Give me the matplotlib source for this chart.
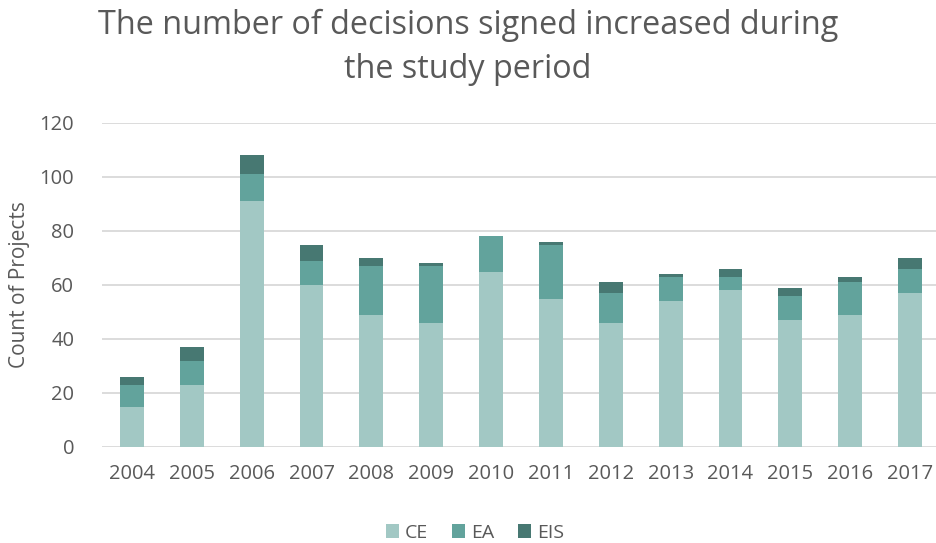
import numpy as np
import matplotlib
matplotlib.use("Agg")
import matplotlib.pyplot as plt

plt.rcParams.update({
    "font.family": ["Open Sans", "DejaVu Sans"],
    "text.color": "#595959",
    "axes.labelcolor": "#595959",
    "xtick.color": "#595959",
    "ytick.color": "#595959",
})

years = ["2004", "2005", "2006", "2007", "2008", "2009", "2010",
         "2011", "2012", "2013", "2014", "2015", "2016", "2017"]
ce  = [15, 23, 91, 60, 49, 46, 65, 55, 46, 54, 58, 47, 49, 57]
ea  = [8,  9,  10, 9,  18, 21, 13, 20, 11, 9,  5,  9,  12, 9]
eis = [3,  5,  7,  6,  3,  1,  0,  1,  4,  1,  3,  3,  2,  4]

colors = {"CE": "#a2c8c4", "EA": "#62a39c", "EIS": "#477872"}

W, H = 936, 543
fig = plt.figure(figsize=(W / 100, H / 100), dpi=100)
ax = fig.add_axes([102 / W, 96 / H, 838 / W, 324 / H])

x = np.arange(len(years))
ce_a, ea_a, eis_a = np.array(ce), np.array(ea), np.array(eis)
bw = 0.4
ax.bar(x, ce_a, bw, color=colors["CE"], label="CE", zorder=3)
ax.bar(x, ea_a, bw, bottom=ce_a, color=colors["EA"], label="EA", zorder=3)
ax.bar(x, eis_a, bw, bottom=ce_a + ea_a, color=colors["EIS"], label="EIS", zorder=3)

ax.set_xlim(-0.5, len(years) - 0.5)
ax.set_ylim(0, 120)
ax.set_yticks(range(0, 121, 20))
ax.set_xticks(x)
ax.set_xticklabels(years)
ax.tick_params(axis="both", length=0, labelsize=14.5)
ax.tick_params(axis="x", pad=12)
ax.tick_params(axis="y", pad=20)
ax.yaxis.grid(True, color="#d9d9d9", lw=1.3, zorder=0)
for s in ax.spines.values():
    s.set_visible(False)
ax.set_axisbelow(True)

ax.set_ylabel("Count of Projects", fontsize=15)
ax.yaxis.set_label_coords(-72 / 838, 0.5)

fig.text(0.5, 1 - 25 / H, "The number of decisions signed increased during",
         ha="center", va="center", fontsize=23.3)
fig.text(0.5, 1 - 69 / H, "the study period",
         ha="center", va="center", fontsize=23.3)

ax.legend(loc="center", bbox_to_anchor=(475 / W, 10 / H),
          bbox_transform=fig.transFigure, ncol=3, frameon=False,
          fontsize=14, handlelength=0.7, handleheight=0.7,
          handletextpad=0.3, columnspacing=1.2)

fig.savefig("out.png", dpi=100)
